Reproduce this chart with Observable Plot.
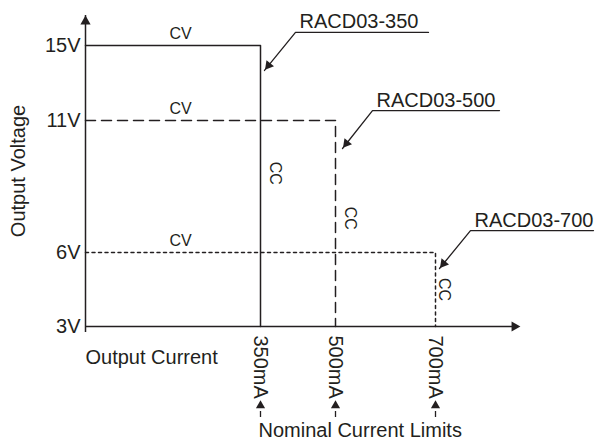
<!DOCTYPE html>
<html><head><meta charset="utf-8">
<script src="https://cdn.jsdelivr.net/npm/d3@7"></script>
<script src="https://cdn.jsdelivr.net/npm/@observablehq/plot@0.6"></script>
<style>body{margin:0;background:#fff}</style>
</head><body><div id="chart"></div>
<script>
// ---- data ----
const models = ["RACD03-350", "RACD03-500", "RACD03-700"];
const currentLimits = [350, 500, 700];   // mA (CC)
const cvVoltages = [15, 11, 6];          // V (CV)
const minVoltage = 3;                    // V
const voltageTicks = [3, 6, 11, 15];
const dashStyles = ["none", "10,6", "3,3.5"];

// annotation anchors, in data units (mA, V)
const cvLabelCurrent = 190;
const ccLabelCurrents = [380, 530, 717];
const ccLabelVoltages = [9.0, 7.3, 4.5];
const leaderTipCurrents = [358, 514, 708];
const leaderTipVoltages = [13.67, 9.94, 5.35];
const leaderElbowCurrents = [420, 574, 770];
const leaderElbowVoltages = [15.7, 11.53, 6.83];
const leaderEndCurrents = [686, 828, 1016];
const axisEndCurrent = 870;
const axisTopVoltage = 16.6;

const ink = "#231f20";
const font = "'Liberation Sans', Arial, sans-serif";

// schematic (non-uniform) voltage axis: piecewise-linear placement of the tick voltages
const voltagePlacement = d3.scaleLinear().domain(voltageTicks).range([0, 74, 206, 281]);

const curves = models.flatMap((m, i) => [
  {model: m, x: 0, y: cvVoltages[i]},
  {model: m, x: currentLimits[i], y: cvVoltages[i]},
  {model: m, x: currentLimits[i], y: minVoltage}
]);
const leaders = models.flatMap((m, i) => [
  {model: m, x: leaderTipCurrents[i], y: leaderTipVoltages[i]},
  {model: m, x: leaderElbowCurrents[i], y: leaderElbowVoltages[i]},
  {model: m, x: leaderEndCurrents[i], y: leaderElbowVoltages[i]}
]);

const curveMarks = models.map((m, i) =>
  Plot.line(curves.filter(d => d.model === m), {
    x: "x", y: "y", stroke: ink, strokeWidth: 1.5,
    strokeDasharray: dashStyles[i] === "none" ? null : dashStyles[i]
  })
);

const chart = Plot.plot({
  width: 595,
  height: 441,
  marginLeft: 85,
  marginRight: 75,
  marginTop: 15,
  marginBottom: 115,
  style: {fontFamily: font, color: ink, background: "#fff"},
  x: {domain: [0, axisEndCurrent]},
  y: {transform: v => voltagePlacement(v)},
  marks: [
    // axes lines with arrow heads
    Plot.ruleX([0], {y1: () => minVoltage, y2: () => axisTopVoltage, stroke: ink, strokeWidth: 1.5, insetTop: 6}),
    Plot.ruleY([minVoltage], {x1: 0, x2: axisEndCurrent, stroke: ink, strokeWidth: 1.5, insetRight: 6}),
    Plot.dot([0], {x: d => d, y: () => axisTopVoltage, symbol: "triangle", r: 3.8, fill: ink, stroke: null, dy: 6}),
    Plot.dot([0], {x: () => axisEndCurrent, y: () => minVoltage, symbol: "triangle", r: 3.8, fill: ink, stroke: null, rotate: 90, dx: -6}),
    Plot.axisY(voltageTicks, {
      tickFormat: d => `${d}V`, tickSize: 0, tickPadding: 5, fontSize: 20,
      label: "Output Voltage", labelAnchor: "center", labelOffset: 75, labelArrow: "none"
    }),
    Plot.axisX(currentLimits, {
      tickFormat: d => `${d}mA`, tickRotate: 90, tickSize: 0, tickPadding: 9, fontSize: 20, label: null
    }),
    ...curveMarks,
    // CV / CC labels
    Plot.text(cvVoltages, {x: () => cvLabelCurrent, y: d => d, text: () => "CV", dy: -12, fontSize: 16, fill: ink}),
    Plot.text(currentLimits, {x: (d, i) => ccLabelCurrents[i], y: (d, i) => ccLabelVoltages[i], text: () => "CC", rotate: 90, fontSize: 16, fill: ink}),
    // model leaders
    Plot.line(leaders, {x: "x", y: "y", z: "model", stroke: ink, strokeWidth: 1.3}),
    Plot.dot(models, {x: (d, i) => leaderTipCurrents[i], y: (d, i) => leaderTipVoltages[i], symbol: "triangle", r: 3.6, fill: ink, stroke: null, rotate: 219, dx: 4, dy: -5}),
    Plot.text(models, {x: (d, i) => leaderElbowCurrents[i], y: (d, i) => leaderElbowVoltages[i], text: d => d, textAnchor: "start", lineAnchor: "bottom", dx: 4, dy: -4, fontSize: 20, fill: ink}),
    // nominal current limit pointers
    Plot.ruleX(currentLimits, {stroke: ink, strokeWidth: 1.3, insetTop: 396, insetBottom: -91}),
    Plot.dot(currentLimits, {x: d => d, frameAnchor: "bottom", symbol: "triangle", r: 3.4, fill: ink, stroke: null, dy: 79}),
    Plot.text(["Output Current"], {text: d => d, frameAnchor: "bottom-left", textAnchor: "start", dy: 37, fontSize: 20, fill: ink}),
    Plot.text(["Nominal Current Limits"], {x: () => currentLimits[0], text: d => d, frameAnchor: "bottom", textAnchor: "start", dx: -2, dy: 110, fontSize: 20, fill: ink})
  ]
});
document.getElementById("chart").appendChild(chart);
</script>
</body></html>
